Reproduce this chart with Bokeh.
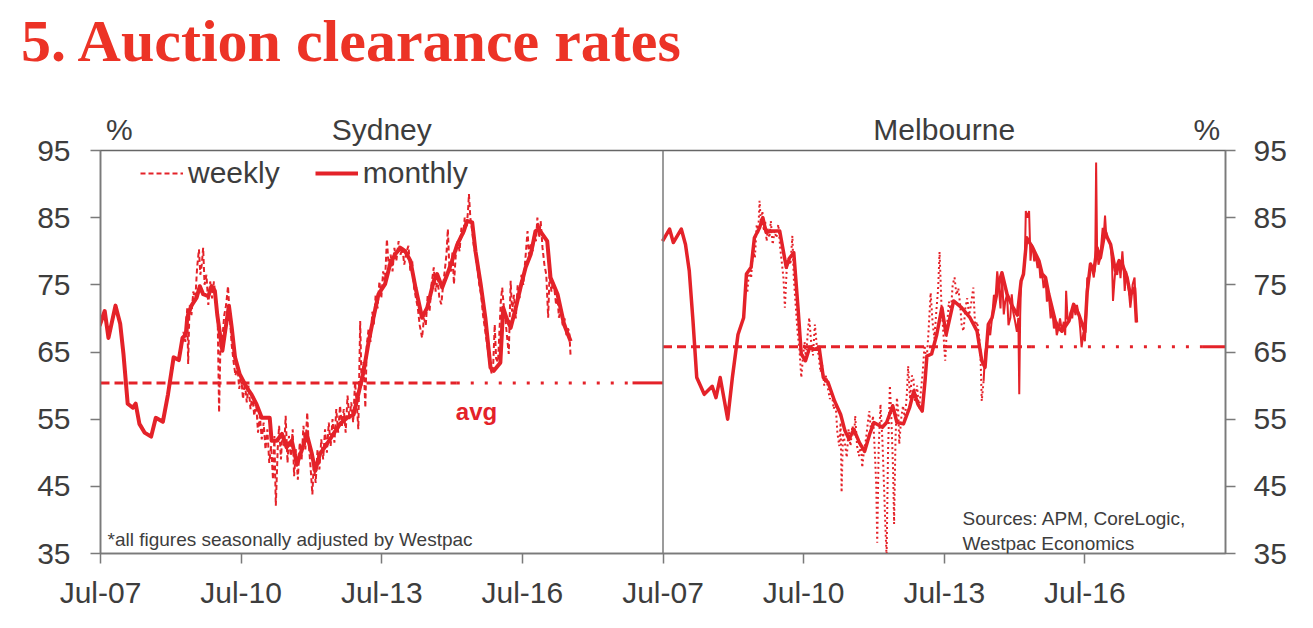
from bokeh.plotting import figure
from bokeh.models import Range1d, LinearAxis, FixedTicker, Label, Legend, LegendItem, Span
from bokeh.embed import file_html
from bokeh.resources import INLINE

# ---------------- data ----------------
TITLE = "5. Auction clearance rates"
PANEL_NAMES = ["Sydney", "Melbourne"]
TICK_YEARS = [2007.5, 2010.5, 2013.5, 2016.5]
TICK_LABELS = ["Jul-07", "Jul-10", "Jul-13", "Jul-16"]
Y_TICKS = [35, 45, 55, 65, 75, 85, 95]

SYD_AVG = 60.4
MEL_AVG = 65.8

SYD_M_X = [2007.48, 2007.59, 2007.67, 2007.82, 2007.92, 2007.99, 2008.08, 2008.19, 2008.25, 2008.33,
           2008.44, 2008.58, 2008.68, 2008.83, 2008.94, 2009.06, 2009.17, 2009.25, 2009.32, 2009.35,
           2009.44, 2009.55, 2009.62, 2009.69, 2009.80, 2009.87, 2009.94, 2009.99, 2010.06, 2010.10,
           2010.17, 2010.24, 2010.30, 2010.37, 2010.47, 2010.62, 2010.72, 2010.83, 2010.94, 2011.11,
           2011.15, 2011.26, 2011.37, 2011.47, 2011.58, 2011.69, 2011.79, 2011.90, 2012.01, 2012.08,
           2012.18, 2012.33, 2012.47, 2012.61, 2012.76, 2012.90, 2013.00, 2013.11, 2013.22, 2013.32,
           2013.43, 2013.57, 2013.68, 2013.79, 2013.90, 2014.00, 2014.11, 2014.22, 2014.36, 2014.47,
           2014.61, 2014.68, 2014.79, 2014.90, 2015.00, 2015.11, 2015.25, 2015.32, 2015.43, 2015.50,
           2015.61, 2015.71, 2015.82, 2015.89, 2016.03, 2016.09, 2016.16, 2016.25, 2016.36, 2016.46,
           2016.57, 2016.68, 2016.78, 2016.85, 2017.03, 2017.10, 2017.25, 2017.39, 2017.53]
SYD_M_Y = [68.9, 71.1, 67.1, 71.9, 69.2, 64.7, 57.3, 56.7, 57.3, 54.3,
           53.0, 52.4, 55.2, 54.6, 58.7, 64.2, 63.8, 67.1, 67.6, 70.1,
           71.9, 73.1, 74.8, 73.6, 73.3, 74.8, 74.1, 70.6, 67.1, 65.2,
           68.6, 71.9, 68.6, 64.2, 61.7, 59.7, 58.7, 57.2, 55.2, 55.2,
           51.8, 51.8, 52.8, 50.8, 51.8, 48.3, 50.3, 52.8, 49.8, 47.3,
           49.8, 51.3, 52.8, 54.3, 55.2, 55.7, 58.7, 62.0, 66.5, 70.0,
           73.6, 75.1, 78.1, 79.6, 80.5, 80.0, 78.6, 74.6, 70.1, 71.6,
           75.6, 76.6, 74.6, 76.6, 78.6, 81.0, 83.0, 84.5, 84.3, 80.0,
           75.1, 70.1, 62.7, 62.2, 63.4, 71.6, 70.1, 68.6, 71.6, 74.6,
           77.6, 79.6, 83.0, 83.3, 81.5, 76.1, 73.6, 69.1, 66.6]

SYD_W_X = [2009.22, 2009.27, 2009.31, 2009.35, 2009.37, 2009.40, 2009.44, 2009.48, 2009.52, 2009.56,
           2009.60, 2009.63, 2009.66, 2009.69, 2009.72, 2009.76, 2009.80, 2009.84, 2009.88, 2009.92,
           2009.96, 2010.00, 2010.03, 2010.06, 2010.10, 2010.14, 2010.18, 2010.22, 2010.26, 2010.30,
           2010.34, 2010.38, 2010.42, 2010.46, 2010.50, 2010.54, 2010.58, 2010.62, 2010.66, 2010.70,
           2010.74, 2010.78, 2010.82, 2010.86, 2010.90, 2010.94, 2010.98, 2011.02, 2011.06, 2011.10,
           2011.14, 2011.18, 2011.21, 2011.24, 2011.28, 2011.31, 2011.35, 2011.38, 2011.42, 2011.45,
           2011.49, 2011.52, 2011.56, 2011.60, 2011.63, 2011.67, 2011.71, 2011.75, 2011.79, 2011.83,
           2011.87, 2011.91, 2011.94, 2011.98, 2012.02, 2012.05, 2012.09, 2012.13, 2012.17, 2012.21,
           2012.25, 2012.29, 2012.33, 2012.37, 2012.41, 2012.45, 2012.49, 2012.53, 2012.57, 2012.61,
           2012.65, 2012.69, 2012.73, 2012.77, 2012.81, 2012.85, 2012.89, 2012.93, 2012.97, 2013.00,
           2013.04, 2013.07, 2013.11, 2013.15, 2013.18, 2013.22, 2013.26, 2013.30, 2013.33, 2013.37,
           2013.41, 2013.45, 2013.49, 2013.53, 2013.57, 2013.61, 2013.65, 2013.69, 2013.73, 2013.77,
           2013.81, 2013.86, 2013.90, 2013.94, 2013.98, 2014.03, 2014.07, 2014.11, 2014.15, 2014.19,
           2014.23, 2014.27, 2014.31, 2014.36, 2014.40, 2014.44, 2014.48, 2014.52, 2014.56, 2014.61,
           2014.65, 2014.69, 2014.73, 2014.77, 2014.81, 2014.85, 2014.88, 2014.91, 2014.94, 2014.98,
           2015.01, 2015.04, 2015.08, 2015.12, 2015.16, 2015.20, 2015.24, 2015.27, 2015.31, 2015.34,
           2015.36, 2015.39, 2015.43, 2015.46, 2015.50, 2015.54, 2015.58, 2015.62, 2015.66, 2015.70,
           2015.74, 2015.78, 2015.82, 2015.85, 2015.88, 2015.91, 2015.94, 2015.98, 2016.01, 2016.04,
           2016.07, 2016.10, 2016.13, 2016.17, 2016.21, 2016.25, 2016.28, 2016.32, 2016.36, 2016.40,
           2016.44, 2016.48, 2016.52, 2016.56, 2016.61, 2016.64, 2016.68, 2016.72, 2016.75, 2016.79,
           2016.82, 2016.86, 2016.89, 2016.93, 2016.97, 2017.01, 2017.05, 2017.08, 2017.12, 2017.15,
           2017.18, 2017.22, 2017.25, 2017.28, 2017.32, 2017.36, 2017.40, 2017.44, 2017.47, 2017.50,
           2017.53]
SYD_W_Y = [65.5, 68.0, 66.5, 71.5, 63.2, 72.0, 70.5, 74.0, 72.5, 77.5,
           80.3, 76.5, 78.0, 80.5, 75.0, 76.5, 72.0, 75.5, 73.0, 75.5,
           72.5, 70.0, 56.0, 66.5, 67.0, 70.5, 72.0, 74.8, 70.0, 66.0,
           63.5, 61.5, 63.0, 59.5, 61.5, 58.0, 60.5, 57.5, 60.0, 56.5,
           58.5, 55.5, 57.5, 53.0, 55.5, 52.0, 54.5, 50.5, 53.5, 48.5,
           51.0, 46.0, 52.5, 42.1, 50.5, 54.0, 49.0, 53.0, 51.0, 55.5,
           48.5, 52.5, 49.5, 53.5, 46.5, 50.5, 46.0, 51.5, 49.0, 54.0,
           50.5, 56.0, 51.5, 48.0, 43.8, 48.5, 45.5, 50.5, 47.5, 52.0,
           49.0, 53.5, 50.0, 54.5, 51.0, 55.0, 51.5, 56.5, 53.0, 57.0,
           54.0, 56.5, 53.0, 58.5, 55.0, 57.5, 54.5, 60.5, 57.0, 53.5,
           69.6, 60.0, 63.5, 56.7, 66.0, 68.5, 66.5, 71.0, 69.0, 73.5,
           71.5, 75.5, 73.0, 77.0, 75.5, 81.8, 77.5, 79.5, 77.0, 80.5,
           78.5, 81.5, 79.5, 80.5, 78.0, 80.0, 80.8, 77.0, 78.5, 74.5,
           73.0, 71.5, 69.0, 67.1, 70.0, 69.0, 73.5, 71.0, 75.0, 77.6,
           74.0, 76.0, 73.0, 72.1, 75.0, 77.5, 79.5, 83.3, 78.0, 77.0,
           80.0, 75.1, 79.5, 81.5, 80.0, 83.5, 82.5, 85.0, 83.5, 86.0,
           88.5, 85.0, 83.0, 81.0, 79.5, 77.5, 75.0, 73.5, 70.5, 68.5,
           66.5, 64.5, 62.5, 61.7, 63.5, 69.1, 64.0, 63.5, 68.0, 72.5,
           74.6, 72.0, 70.5, 67.5, 64.7, 75.6, 71.0, 73.5, 70.0, 75.0,
           73.0, 76.5, 75.0, 78.5, 83.0, 79.5, 81.0, 80.0, 82.5, 81.5,
           85.0, 82.0, 84.5, 80.5, 78.0, 76.5, 70.1, 76.5, 74.0, 75.5,
           74.6, 72.0, 73.0, 70.1, 71.5, 69.0, 70.0, 67.5, 68.5, 68.1,
           64.2]

MEL_M_X = [2007.49, 2007.64, 2007.72, 2007.89, 2007.98, 2008.06, 2008.14, 2008.22, 2008.38, 2008.55,
           2008.63, 2008.72, 2008.88, 2008.98, 2009.10, 2009.22, 2009.28, 2009.38, 2009.45, 2009.56,
           2009.63, 2009.70, 2009.81, 2009.99, 2010.13, 2010.20, 2010.29, 2010.38, 2010.45, 2010.54,
           2010.63, 2010.74, 2010.83, 2010.92, 2011.02, 2011.16, 2011.29, 2011.38, 2011.47, 2011.57,
           2011.69, 2011.80, 2011.91, 2012.00, 2012.18, 2012.27, 2012.40, 2012.49, 2012.63, 2012.76,
           2012.85, 2012.94, 2013.03, 2013.09, 2013.13, 2013.23, 2013.34, 2013.45, 2013.54, 2013.70,
           2013.87, 2014.05, 2014.20, 2014.30, 2014.37, 2014.44, 2014.52, 2014.59, 2014.66, 2014.73,
           2014.84, 2014.94, 2015.06, 2015.14, 2015.19, 2015.26, 2015.39, 2015.45, 2015.52, 2015.59,
           2015.66, 2015.73, 2015.80, 2015.87, 2015.94, 2016.01, 2016.16, 2016.26, 2016.37, 2016.50,
           2016.55, 2016.62, 2016.69, 2016.76, 2016.83, 2016.93, 2016.98, 2017.05, 2017.15, 2017.23,
           2017.30, 2017.40, 2017.47, 2017.56, 2017.60]
MEL_M_Y = [81.5, 83.3, 81.3, 83.3, 81.0, 77.1, 69.6, 61.2, 58.7, 59.9,
           58.2, 61.2, 55.0, 61.2, 67.6, 70.1, 76.6, 77.6, 82.0, 83.5,
           85.0, 82.8, 83.0, 83.0, 77.6, 79.0, 79.8, 71.6, 64.7, 63.7,
           65.7, 65.4, 65.7, 61.2, 60.5, 57.7, 55.7, 53.3, 52.0, 53.5,
           51.5, 50.2, 52.8, 54.5, 53.8, 54.5, 57.0, 54.5, 54.3, 56.7,
           59.2, 57.2, 56.2, 60.7, 64.4, 64.7, 67.6, 71.6, 67.6, 72.6,
           71.6, 70.1, 68.1, 63.7, 62.7, 69.1, 70.1, 72.6, 75.1, 76.8,
           73.6, 72.0, 70.5, 75.6, 76.6, 82.0, 80.5, 79.6, 78.6, 76.6,
           76.1, 73.6, 71.6, 69.6, 68.6, 68.1, 69.6, 72.1, 70.6, 68.0,
           74.0, 78.1, 77.0, 80.5, 79.0, 83.0, 82.0, 81.0, 77.1, 78.6,
           78.0, 76.1, 73.5, 74.5, 69.4]

MEL_W_X = [2009.30, 2009.34, 2009.38, 2009.42, 2009.46, 2009.50, 2009.53, 2009.56, 2009.59, 2009.62,
           2009.65, 2009.68, 2009.71, 2009.74, 2009.77, 2009.80, 2009.84, 2009.88, 2009.92, 2009.96,
           2010.00, 2010.04, 2010.07, 2010.10, 2010.14, 2010.18, 2010.22, 2010.26, 2010.29, 2010.33,
           2010.37, 2010.41, 2010.45, 2010.48, 2010.52, 2010.55, 2010.59, 2010.62, 2010.66, 2010.70,
           2010.74, 2010.78, 2010.82, 2010.86, 2010.90, 2010.94, 2010.98, 2011.02, 2011.06, 2011.10,
           2011.14, 2011.18, 2011.22, 2011.26, 2011.29, 2011.31, 2011.34, 2011.38, 2011.42, 2011.46,
           2011.50, 2011.54, 2011.58, 2011.60, 2011.64, 2011.68, 2011.72, 2011.75, 2011.79, 2011.83,
           2011.87, 2011.90, 2011.94, 2011.98, 2012.02, 2012.05, 2012.07, 2012.10, 2012.14, 2012.18,
           2012.22, 2012.25, 2012.27, 2012.30, 2012.34, 2012.37, 2012.41, 2012.43, 2012.46, 2012.49,
           2012.52, 2012.54, 2012.58, 2012.62, 2012.66, 2012.70, 2012.73, 2012.77, 2012.81, 2012.84,
           2012.88, 2012.92, 2012.96, 2013.00, 2013.04, 2013.08, 2013.12, 2013.16, 2013.21, 2013.25,
           2013.29, 2013.33, 2013.37, 2013.40, 2013.44, 2013.48, 2013.52, 2013.56, 2013.60, 2013.64,
           2013.68, 2013.72, 2013.76, 2013.80, 2013.84, 2013.87, 2013.91, 2013.95, 2013.99, 2014.03,
           2014.07, 2014.12, 2014.16, 2014.20, 2014.23, 2014.27, 2014.30, 2014.34, 2014.37, 2014.41,
           2014.44, 2014.48, 2014.52, 2014.56, 2014.59, 2014.63, 2014.66, 2014.70, 2014.73, 2014.77,
           2014.80, 2014.84, 2014.87, 2014.91, 2014.94, 2014.97, 2015.01, 2015.05, 2015.08, 2015.10,
           2015.12, 2015.14, 2015.19, 2015.22, 2015.24, 2015.27, 2015.31, 2015.34, 2015.37, 2015.39,
           2015.42, 2015.45, 2015.49, 2015.52, 2015.55, 2015.59, 2015.62, 2015.66, 2015.69, 2015.73,
           2015.77, 2015.80, 2015.84, 2015.87, 2015.90, 2015.94, 2015.97, 2016.01, 2016.05, 2016.08,
           2016.10, 2016.13, 2016.16, 2016.20, 2016.23, 2016.26, 2016.30, 2016.33, 2016.37, 2016.40,
           2016.43, 2016.47, 2016.50, 2016.53, 2016.55, 2016.58, 2016.62, 2016.65, 2016.69, 2016.72,
           2016.74, 2016.76, 2016.79, 2016.83, 2016.85, 2016.88, 2016.90, 2016.93, 2016.95, 2016.98,
           2017.02, 2017.05, 2017.08, 2017.10, 2017.13, 2017.15, 2017.19, 2017.23, 2017.26, 2017.30,
           2017.33, 2017.35, 2017.38, 2017.40, 2017.44, 2017.47, 2017.50, 2017.52, 2017.56, 2017.60]
MEL_W_Y = [74.0, 77.5, 76.0, 80.5, 79.0, 84.0, 82.5, 87.5, 84.0, 86.0,
           83.0, 84.5, 81.5, 83.5, 82.0, 84.5, 81.0, 83.0, 82.0, 84.0,
           80.5, 78.0, 76.0, 71.6, 77.5, 79.0, 78.0, 82.3, 76.0, 72.0,
           68.0, 65.5, 61.2, 63.7, 66.5, 64.0, 68.0, 70.1, 66.5, 64.5,
           69.1, 66.0, 64.5, 62.0, 63.0, 60.0, 61.5, 59.5, 58.0, 59.0,
           56.5, 57.5, 53.0, 51.0, 54.5, 44.1, 53.0, 51.5, 49.3, 53.5,
           51.0, 54.0, 52.5, 55.5, 51.0, 49.5, 51.5, 47.8, 50.5, 52.0,
           54.5, 56.2, 53.0, 55.5, 50.0, 45.0, 36.6, 50.5, 57.2, 52.0,
           44.0, 38.0, 34.5, 50.0, 60.0, 55.5, 47.0, 39.4, 52.0, 58.2,
           56.0, 51.3, 55.0, 57.0, 55.0, 58.5, 62.9, 58.0, 61.5, 61.2,
           57.5, 60.0, 56.5, 59.0, 62.0, 66.0, 63.5, 67.5, 73.8, 69.5,
           67.0, 71.0, 74.5, 79.9, 72.0, 68.0, 63.7, 69.0, 72.5, 71.0,
           75.0, 76.1, 73.5, 74.5, 72.0, 69.1, 68.1, 71.5, 73.0, 70.5,
           72.0, 74.6, 68.6, 69.5, 68.1, 65.5, 57.7, 60.7, 64.7, 66.5,
           69.1, 67.5, 70.1, 73.5, 72.6, 77.0, 75.1, 71.5, 76.8, 70.6,
           72.5, 73.6, 69.0, 70.1, 73.6, 71.0, 69.6, 68.0, 70.1, 58.7,
           70.5, 75.6, 76.6, 79.0, 86.0, 85.0, 86.0, 78.6, 81.0, 80.5,
           78.5, 79.6, 77.5, 78.6, 76.0, 76.6, 74.5, 76.1, 72.5, 73.6,
           70.0, 71.6, 68.5, 69.6, 67.5, 68.6, 70.0, 68.1, 69.5, 67.5,
           74.1, 70.0, 69.6, 71.0, 70.0, 72.1, 70.5, 72.0, 70.6, 68.5,
           65.7, 68.0, 66.6, 70.5, 76.1, 75.5, 78.1, 77.5, 76.1, 78.0,
           93.2, 80.5, 78.0, 79.0, 81.0, 83.5, 82.0, 85.3, 83.0, 82.0,
           81.5, 81.0, 78.0, 72.6, 75.5, 77.1, 76.5, 78.6, 76.0, 80.0,
           77.0, 74.1, 77.0, 76.1, 74.0, 71.6, 73.5, 75.1, 76.1, 69.4]

LEGEND_LABELS = ["weekly", "monthly"]
AVG_LABEL = "avg"
FOOTNOTE = "*all figures seasonally adjusted by Westpac"
SOURCES = ["Sources: APM, CoreLogic,", "Westpac Economics"]
UNIT = "%"

# ---------------- style ----------------
PANEL_START = TICK_YEARS[0]
PANEL_SPAN = 12.0
UNIT_INSET = 0.4          # years from the outer frame edge to the "%" marks
RED = "#E42229"
TITLE_RED = "#EC3326"
TXT = "#3d3d3d"
AX = "#7a7a7a"
SANS = "Liberation Sans"
SERIF = "Liberation Serif"
SYD_AVG_BREAKS = (2015.1, 2018.85)
MEL_AVG_BREAKS = (2015.37, 2019.0)
MEL_WEEKLY_SOLID_FROM = 2014.32

W, H = 1313, 626
FL, FT, FB, FR = 100, 150, 553, 1225   # frame edges on the page
TITLE_CENTER_PX = 352
PX_PER_YEAR = (FR - FL) / (2 * PANEL_SPAN)


def sx(px):
    return px - FL


def sy(py):
    return FB - py


p = figure(width=W, height=H,
           x_range=Range1d(PANEL_START, PANEL_START + 2 * PANEL_SPAN),
           y_range=Range1d(Y_TICKS[0], Y_TICKS[-1]),
           output_backend="svg", toolbar_location=None, tools="",
           min_border_left=FL, min_border_right=W - FR,
           min_border_top=FT, min_border_bottom=H - FB)
p.extra_x_ranges = {"mel": Range1d(PANEL_START - PANEL_SPAN, PANEL_START + PANEL_SPAN)}
p.xgrid.visible = False
p.ygrid.visible = False
p.background_fill_color = "white"
p.border_fill_color = "white"
p.outline_line_color = "#666666"
p.outline_line_width = 1.5


def style_axis(ax, standoff, size="30px"):
    ax.axis_line_color = AX
    ax.axis_line_width = 1.5
    ax.major_tick_line_color = AX
    ax.major_tick_line_width = 1.5
    ax.major_tick_out = 10
    ax.major_tick_in = 0
    ax.minor_tick_out = 0
    ax.minor_tick_in = 0
    ax.major_label_text_font = SANS
    ax.major_label_text_font_size = size
    ax.major_label_text_color = TXT
    ax.major_label_standoff = standoff


def bare(ax):
    ax.axis_line_color = None
    ax.major_tick_line_color = None
    ax.major_tick_out = 0


yl = p.yaxis[0]
yl.ticker = FixedTicker(ticks=Y_TICKS)
style_axis(yl, 20)
yr = LinearAxis(ticker=FixedTicker(ticks=Y_TICKS))
style_axis(yr, 18)
p.add_layout(yr, "right")

xt = TICK_YEARS + [t + PANEL_SPAN for t in TICK_YEARS]
xa = p.xaxis[0]
xa.ticker = FixedTicker(ticks=xt)
xa.major_label_overrides = {t: lab for t, lab in zip(xt, TICK_LABELS + TICK_LABELS)}
style_axis(xa, 12)

# headers just above the frame: "%", panel names, "%"
head_ticks = [PANEL_START + UNIT_INSET,
              PANEL_START + PANEL_SPAN / 2,
              PANEL_START + 1.5 * PANEL_SPAN,
              PANEL_START + 2 * PANEL_SPAN - UNIT_INSET]
head_labels = [UNIT, PANEL_NAMES[0], PANEL_NAMES[1], UNIT]
top = LinearAxis(ticker=FixedTicker(ticks=head_ticks))
top.major_label_overrides = {t: lab for t, lab in zip(head_ticks, head_labels)}
style_axis(top, 5)
bare(top)
p.add_layout(top, "above")

# chart title, as the outermost band above the frame
title_tick = PANEL_START + (TITLE_CENTER_PX - FL) / PX_PER_YEAR
tax = LinearAxis(ticker=FixedTicker(ticks=[title_tick]))
tax.major_label_overrides = {title_tick: TITLE}
style_axis(tax, 36, "60px")
bare(tax)
tax.major_label_text_font = SERIF
tax.major_label_text_font_style = "bold"
tax.major_label_text_color = TITLE_RED
p.add_layout(tax, "above")

p.add_layout(Span(location=PANEL_START + PANEL_SPAN, dimension="height",
                  line_color=AX, line_width=1.5))


def avg_line(level, breaks, rng):
    kw = {} if rng is None else {"x_range_name": rng}
    end = PANEL_START + PANEL_SPAN
    p.line([PANEL_START, breaks[0]], [level, level], line_color=RED, line_width=3,
           line_dash="9 5", **kw)
    p.line([breaks[0], breaks[1]], [level, level], line_color=RED, line_width=3,
           line_dash="3 11", **kw)
    p.line([breaks[1], end], [level, level], line_color=RED, line_width=3, **kw)


avg_line(SYD_AVG, SYD_AVG_BREAKS, None)
avg_line(MEL_AVG, MEL_AVG_BREAKS, "mel")

syd_w = p.line(SYD_W_X, SYD_W_Y, line_color=RED, line_width=2, line_dash="5 3")
syd_m = p.line(SYD_M_X, SYD_M_Y, line_color=RED, line_width=4, line_join="round")

split = next(i for i, x in enumerate(MEL_W_X) if x >= MEL_WEEKLY_SOLID_FROM)
p.line(MEL_W_X[:split + 1], MEL_W_Y[:split + 1], line_color=RED, line_width=2,
       line_dash="2 3", x_range_name="mel")
p.line(MEL_W_X[split:], MEL_W_Y[split:], line_color=RED, line_width=2,
       x_range_name="mel")
p.line(MEL_M_X, MEL_M_Y, line_color=RED, line_width=3.5, line_join="round",
       x_range_name="mel")

leg = Legend(items=[LegendItem(label=LEGEND_LABELS[0], renderers=[syd_w]),
                    LegendItem(label=LEGEND_LABELS[1], renderers=[syd_m])],
             orientation="horizontal", location=(sx(140), sy(190)),
             glyph_width=43, glyph_height=30, label_height=30, label_standoff=5,
             spacing=35, padding=0, margin=0,
             label_text_font=SANS, label_text_font_size="30px", label_text_color=TXT,
             border_line_color=None, background_fill_alpha=0)
p.add_layout(leg)


def label(text, px, py, size, color=TXT, align="left", style="normal"):
    p.add_layout(Label(x=sx(px), y=sy(py), x_units="screen", y_units="screen",
                       text=text, text_font=SANS, text_font_size=size,
                       text_font_style=style, text_color=color,
                       text_align=align, text_baseline="alphabetic"))


label(AVG_LABEL, 476, 411, "24px", color=RED, align="center", style="bold")
label(FOOTNOTE, 107, 539, "19px")
label(SOURCES[0], 962, 518, "19px")
label(SOURCES[1], 962, 543, "19px")

open("out.html", "w").write(file_html(p, INLINE))
